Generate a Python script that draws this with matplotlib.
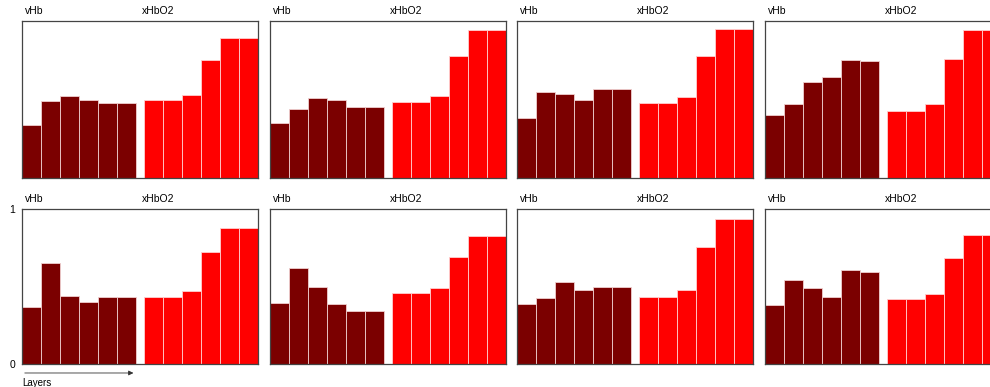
import matplotlib
matplotlib.use("Agg")
import matplotlib.pyplot as plt
import numpy as np

plt.rcParams["font.family"] = ["Liberation Sans", "DejaVu Sans"]

# Per-panel layer values (6 layers each)
vhb = [
    [0.34, 0.49, 0.52, 0.50, 0.475, 0.475],
    [0.35, 0.44, 0.51, 0.50, 0.455, 0.455],
    [0.38, 0.55, 0.535, 0.50, 0.57, 0.565],
    [0.40, 0.47, 0.61, 0.645, 0.75, 0.745],
    [0.37, 0.65, 0.44, 0.40, 0.435, 0.435],
    [0.395, 0.62, 0.50, 0.39, 0.345, 0.345],
    [0.39, 0.425, 0.53, 0.48, 0.495, 0.495],
    [0.38, 0.545, 0.49, 0.435, 0.605, 0.595],
]
xhbo2 = [
    [0.495, 0.495, 0.53, 0.75, 0.89, 0.89],
    [0.485, 0.485, 0.52, 0.78, 0.945, 0.945],
    [0.475, 0.475, 0.515, 0.78, 0.95, 0.95],
    [0.425, 0.425, 0.47, 0.76, 0.945, 0.945],
    [0.435, 0.435, 0.47, 0.72, 0.875, 0.875],
    [0.46, 0.46, 0.49, 0.69, 0.825, 0.825],
    [0.435, 0.435, 0.48, 0.755, 0.935, 0.935],
    [0.42, 0.42, 0.45, 0.685, 0.83, 0.835],
]
group_labels = ["vHb", "xHbO2"]

W, H = 990, 387
fig = plt.figure(figsize=(W / 100, H / 100), dpi=100)

lefts = [22, 270, 517, 765]
rows = [(21, 178), (209, 364)]  # (top, bottom) in pixels
panel_w = 236

x_vhb = np.arange(6)
x_hbo = np.arange(6) + 6.4

for i in range(8):
    r, c = divmod(i, 4)
    top, bot = rows[r]
    ax = fig.add_axes([lefts[c] / W, (H - bot) / H, panel_w / W, (bot - top) / H])
    ax.bar(x_vhb, vhb[i], width=1, align="edge", color="#7b0000",
           edgecolor="#f0d0d0", linewidth=0.6)
    ax.bar(x_hbo, xhbo2[i], width=1, align="edge", color="#ff0000",
           edgecolor="#ffd0d0", linewidth=0.6)
    ax.set_xlim(0, 12.4)
    ax.set_ylim(0, 1)
    ax.set_xticks([])
    for s in ax.spines.values():
        s.set_color("#444444")
        s.set_linewidth(0.9)
    ax.text(0.013, 1.03, group_labels[0], transform=ax.transAxes,
            fontsize=7.5, va="bottom", ha="left")
    ax.text(0.51, 1.03, group_labels[1], transform=ax.transAxes,
            fontsize=7.5, va="bottom", ha="left")
    if i == 4:
        ax.set_yticks([0, 1])
        ax.set_yticklabels(["0", "1"], fontsize=7.5)
        ax.tick_params(axis="y", length=0, pad=5)
        # "Layers" arrow below the vHb group
        ax.annotate("", xy=(6, -0.058), xytext=(0, -0.058),
                    xycoords=("data", "axes fraction"),
                    textcoords=("data", "axes fraction"),
                    arrowprops=dict(arrowstyle="-|>", color="#333333",
                                    lw=0.6, mutation_scale=7),
                    annotation_clip=False)
        ax.text(0.0, -0.09, "Layers", transform=ax.transAxes,
                fontsize=7, va="top", ha="left")
    else:
        ax.set_yticks([])

fig.savefig("out.png", dpi=100)
